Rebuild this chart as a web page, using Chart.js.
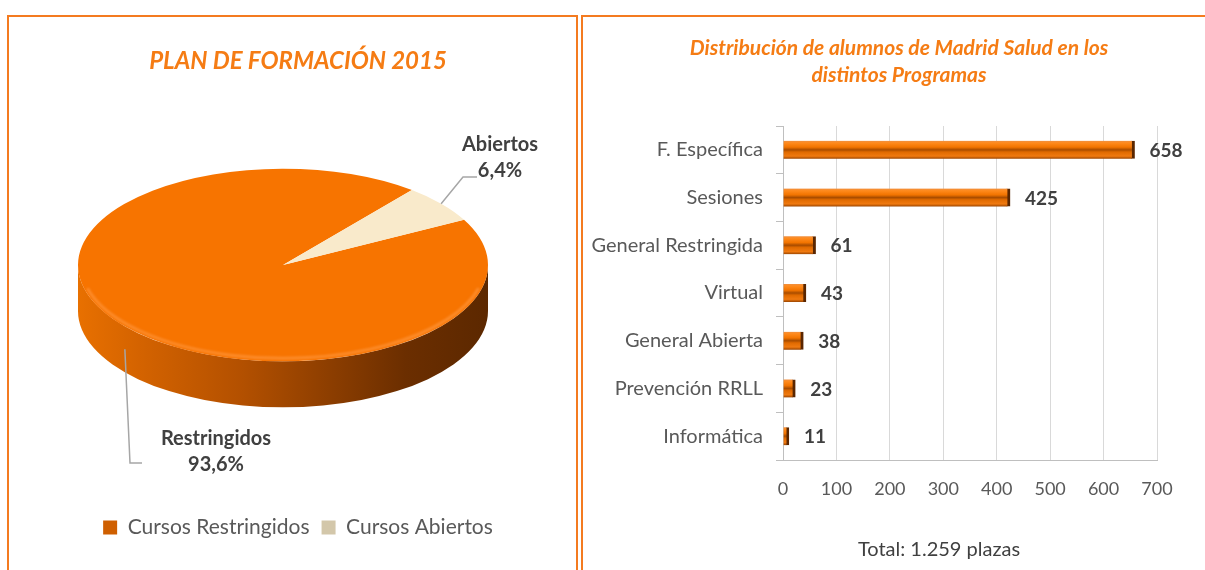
<!DOCTYPE html>
<html>
<head>
<meta charset="utf-8">
<script src="https://cdn.jsdelivr.net/npm/chart.js@4.4.0/dist/chart.umd.min.js"></script>
<style>
html, body { margin: 0; padding: 0; background: #fff; }
body { width: 1205px; height: 570px; position: relative; overflow: hidden; font-family: Lato, sans-serif; }
.panel { position: absolute; border: 2px solid #f47b20; box-sizing: border-box; }
#panelLeft { left: 7px; top: 15px; width: 571px; height: 600px; }
#panelRight { left: 581px; top: 15px; width: 700px; height: 600px; }
canvas { position: absolute; }
#pieChart { left: 0; top: 0; }
#barChart { left: 580px; top: 0; }
#barTitle { position: absolute; left: 649px; width: 500px; top: 33px; text-align: center; color: #f57c14;
            font: italic bold 21px/27px Lato, sans-serif; }
#total { position: absolute; left: 819px; width: 240px; top: 536px; text-align: center; color: #404040; font-size: 20px; }
</style>
</head>
<body>
<div class="panel" id="panelLeft"></div>
<div class="panel" id="panelRight"></div>
<canvas id="pieChart" width="596" height="570"></canvas>
<canvas id="barChart" width="625" height="570"></canvas>
<div id="barTitle">Distribución de alumnos de Madrid Salud en los<br>distintos Programas</div>
<div id="total">Total: 1.259 plazas</div>
<script>
// datos del gráfico circular
const pieLabels = ['Cursos Restringidos', 'Cursos Abiertos'];
const pieShort = ['Restringidos', 'Abiertos'];
const pieValues = [93.6, 6.4];
const pieColors = ['#f77400', '#f9eacb'];
const legendColors = ['#cf5f00', '#d3c7aa'];

// datos del gráfico de barras
const barLabels = ['F. Específica', 'Sesiones', 'General Restringida', 'Virtual', 'General Abierta', 'Prevención RRLL', 'Informática'];
const barValues = [658, 425, 61, 43, 38, 23, 11];
const xTicks = [0, 100, 200, 300, 400, 500, 600, 700];

const orange = '#f57c14';

// tarta "3D": cara lateral + cara superior aplastada
const pie3d = {
    id: 'pie3d',
    beforeDatasetsDraw(chart, args, opts) {
        const ctx = chart.ctx;
        const arcs = chart.getDatasetMeta(0).data;
        const r = arcs[0].outerRadius;
        const cx = opts.cx, cy = opts.cy, ry = r * opts.tilt, d = opts.depth;
        ctx.save();
        arcs.forEach((arc, i) => {
            const g = ctx.createLinearGradient(cx - r, 0, cx + r, 0);
            if (i === 0) {
                g.addColorStop(0, '#e87000');
                g.addColorStop(0.15, '#d46300');
                g.addColorStop(0.4, '#b35000');
                g.addColorStop(0.6, '#8f3f00');
                g.addColorStop(0.8, '#6b2e00');
                g.addColorStop(1, '#5c2800');
            } else {
                g.addColorStop(0, '#e8d6b0');
                g.addColorStop(1, '#8a7a5a');
            }
            ctx.fillStyle = g;
            for (let k = -2; k <= 2; k++) {
                const s = Math.max(arc.startAngle + k * 2 * Math.PI, 0);
                const e = Math.min(arc.endAngle + k * 2 * Math.PI, Math.PI);
                if (e > s) {
                    ctx.beginPath();
                    ctx.ellipse(cx, cy, r, ry, 0, s, e);
                    ctx.ellipse(cx, cy + d, r, ry, 0, e, s, true);
                    ctx.closePath();
                    ctx.fill();
                }
            }
        });
        ctx.restore();
        // la cara superior se dibuja aplastada
        ctx.save();
        ctx.translate(cx, cy);
        ctx.scale(1, opts.tilt);
        ctx.translate(-arcs[0].x, -arcs[0].y);
    },
    afterDatasetsDraw(chart, args, opts) {
        const ctx = chart.ctx;
        ctx.restore();
        const arcs = chart.getDatasetMeta(0).data;
        const r = arcs[0].outerRadius;
        const cx = opts.cx, cy = opts.cy, ry = r * opts.tilt;
        // brillo del borde frontal
        ctx.save();
        ctx.strokeStyle = 'rgba(255,150,60,0.7)';
        ctx.lineWidth = 3;
        ctx.filter = 'blur(1px)';
        ctx.beginPath();
        ctx.ellipse(cx, cy, r - 3, ry - 3, 0, 0.08 * Math.PI, 0.92 * Math.PI);
        ctx.stroke();
        ctx.restore();
        // etiquetas con línea guía
        ctx.save();
        arcs.forEach((arc, i) => {
            const m = (arc.startAngle + arc.endAngle) / 2;
            let ax = cx + r * Math.cos(m), ay = cy + ry * Math.sin(m);
            if (Math.sin(m) > 0) ay += opts.depth * 0.5;
            const lp = opts.labels[i];
            ctx.strokeStyle = '#a6a6a6';
            ctx.lineWidth = 1.5;
            ctx.beginPath();
            ctx.moveTo(ax, ay);
            ctx.lineTo(lp.ex, lp.ey);
            ctx.lineTo(lp.ex2, lp.ey);
            ctx.stroke();
            ctx.fillStyle = '#404040';
            ctx.font = 'bold 20px Lato';
            ctx.textAlign = 'center';
            ctx.textBaseline = 'middle';
            ctx.fillText(pieShort[i], lp.x, lp.y);
            ctx.fillText(pieValues[i].toFixed(1).replace('.', ',') + '%', lp.x, lp.y + 26);
        });
        ctx.restore();
    }
};

new Chart(document.getElementById('pieChart'), {
    type: 'pie',
    data: {
        labels: pieLabels,
        datasets: [{
            data: pieValues,
            backgroundColor: pieColors,
            borderWidth: 0,
            radius: 205
        }]
    },
    options: {
        responsive: false,
        animation: false,
        rotation: 62,
        layout: { padding: { bottom: 22 } },
        plugins: {
            title: {
                display: true,
                text: 'PLAN DE FORMACIÓN 2015',
                color: orange,
                font: { family: 'Lato', size: 24, weight: 'bold', style: 'italic' },
                padding: { top: 47, bottom: 10 }
            },
            legend: {
                position: 'bottom',
                labels: {
                    color: '#595959',
                    font: { family: 'Lato', size: 21 },
                    boxWidth: 14,
                    boxHeight: 14,
                    padding: 12,
                    generateLabels: (chart) => Chart.overrides.pie.plugins.legend.labels.generateLabels(chart)
                        .map((l, i) => Object.assign(l, { fillStyle: legendColors[i], strokeStyle: legendColors[i], lineWidth: 0 }))
                }
            },
            tooltip: { enabled: false },
            pie3d: {
                cx: 283, cy: 265, tilt: 0.47, depth: 46,
                labels: [
                    { x: 216, y: 439, ex: 130, ey: 463, ex2: 142 },
                    { x: 500, y: 145, ex: 463, ey: 177, ex2: 477 }
                ]
            }
        }
    },
    plugins: [pie3d]
});

// relleno biselado de cada barra
function barFill(c) {
    const ys = c.chart.scales.y;
    if (!ys || ys.top === undefined) return orange;
    const py = ys.getPixelForValue(c.dataIndex);
    const g = c.chart.ctx.createLinearGradient(0, py - 9, 0, py + 9);
    g.addColorStop(0, '#f09040');
    g.addColorStop(0.12, '#ff8a1c');
    g.addColorStop(0.35, '#f27400');
    g.addColorStop(0.5, '#a84c00');
    g.addColorStop(0.62, '#e06a00');
    g.addColorStop(0.85, '#f07a10');
    g.addColorStop(1, '#9a4400');
    return g;
}

const valueLabels = {
    id: 'valueLabels',
    afterDatasetsDraw(chart) {
        const ctx = chart.ctx;
        ctx.save();
        ctx.font = 'bold 19px Lato';
        ctx.fillStyle = '#404040';
        ctx.textBaseline = 'middle';
        ctx.textAlign = 'left';
        chart.getDatasetMeta(0).data.forEach((bar, i) => {
            ctx.fillText(String(barValues[i]), bar.x + 15, bar.y + 1);
        });
        ctx.restore();
    }
};

new Chart(document.getElementById('barChart'), {
    type: 'bar',
    data: {
        labels: barLabels,
        datasets: [{
            data: barValues,
            backgroundColor: barFill,
            borderColor: '#5a2600',
            borderWidth: { top: 0, right: 3, bottom: 0, left: 0 },
            borderSkipped: 'start',
            barThickness: 18
        }]
    },
    options: {
        indexAxis: 'y',
        responsive: false,
        animation: false,
        layout: { padding: { left: 5, right: 48, top: 126, bottom: 50 } },
        scales: {
            x: {
                min: 0,
                max: 700,
                afterBuildTicks: (s) => { s.ticks = xTicks.map(v => ({ value: v })); },
                ticks: { color: '#595959', font: { family: 'Lato', size: 18 }, padding: 18 },
                grid: { color: '#d9d9d9', drawTicks: false },
                border: { color: '#bfbfbf' },
                afterFit: (s) => { s.height = 60; }
            },
            y: {
                ticks: { color: '#595959', font: { family: 'Lato', size: 20 }, padding: 13 },
                grid: { offset: true, drawOnChartArea: false, tickLength: 7, color: '#bfbfbf' },
                border: { color: '#bfbfbf' },
                afterFit: (s) => { s.width = 198; }
            }
        },
        plugins: {
            legend: { display: false },
            tooltip: { enabled: false }
        }
    },
    plugins: [valueLabels]
});
</script>
</body>
</html>
